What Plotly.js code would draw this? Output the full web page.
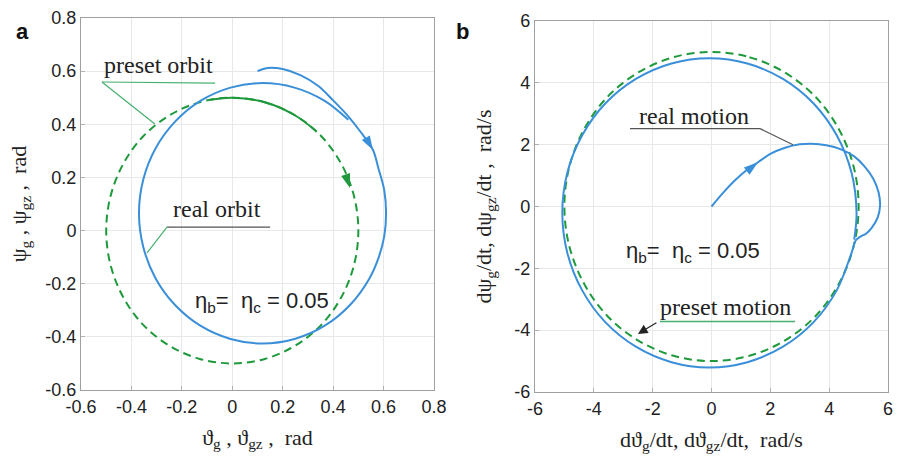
<!DOCTYPE html>
<html>
<head>
<meta charset="utf-8">
<script src="https://cdn.plot.ly/plotly-3.0.1.min.js"></script>
<style>html,body{margin:0;padding:0;background:#fff;}#chart{width:900px;height:461px;}</style>
</head>
<body>
<div id="chart"></div>
<script>
// ---- Panel a: orbit (rad) ----
const presetOrbitX = [0, 0.129, 0.25, 0.354, 0.433, 0.483, 0.5, 0.483, 0.433, 0.354, 0.25, 0.129, 0, -0.129, -0.25, -0.354, -0.433, -0.483, -0.5, -0.483, -0.433, -0.354, -0.25, -0.129, 0];
const presetOrbitY = [0.5, 0.483, 0.433, 0.354, 0.25, 0.129, 0, -0.129, -0.25, -0.354, -0.433, -0.483, -0.5, -0.483, -0.433, -0.354, -0.25, -0.129, 0, 0.129, 0.25, 0.354, 0.433, 0.483, 0.5];
const presetOrbitSolidX = [-0.087, 0, 0.129, 0.25, 0.335];
const presetOrbitSolidY = [0.492, 0.5, 0.483, 0.433, 0.372];
const realOrbitX = [0.10, 0.14, 0.20, 0.27, 0.34, 0.40, 0.46, 0.51, 0.558, 0.58, 0.603, 0.61, 0.603, 0.58, 0.544, 0.466, 0.365, 0.247, 0.12, -0.007, -0.125, -0.226, -0.304, -0.353, -0.37, -0.353, -0.304, -0.226, -0.125, -0.007, 0.12, 0.247, 0.365, 0.46];
const realOrbitY = [0.600, 0.612, 0.608, 0.585, 0.545, 0.49, 0.43, 0.37, 0.303, 0.233, 0.15, 0.065, -0.02, -0.103, -0.18, -0.281, -0.359, -0.408, -0.425, -0.408, -0.359, -0.281, -0.18, -0.062, 0.065, 0.192, 0.31, 0.411, 0.489, 0.538, 0.555, 0.538, 0.489, 0.417];
const arrowsA = {x: [0.467, 0.558], y: [0.16, 0.303], angle: [162, 150]};

// ---- Panel b: motion (rad/s) ----
const presetMotionX = [0, 1.29, 2.5, 3.54, 4.33, 4.83, 5, 4.83, 4.33, 3.54, 2.5, 1.29, 0, -1.29, -2.5, -3.54, -4.33, -4.83, -5, -4.83, -4.33, -3.54, -2.5, -1.29, 0];
const presetMotionY = [5, 4.83, 4.33, 3.54, 2.5, 1.29, 0, -1.29, -2.5, -3.54, -4.33, -4.83, -5, -4.83, -4.33, -3.54, -2.5, -1.29, 0, 1.29, 2.5, 3.54, 4.33, 4.83, 5];
const realMotionX = [0, 0.4, 0.8, 1.2, 1.58, 2.0, 2.5, 3.0, 3.4, 3.9, 4.4, 4.85, 5.2, 5.5, 5.68, 5.73, 5.65, 5.45, 5.25, 5.05, 4.9, 4.76, 4.26, 3.47, 2.43, 1.22, -0.07, -1.36, -2.57, -3.61, -4.40, -4.9, -5.07, -4.9, -4.40, -3.61, -2.57, -1.36, -0.07, 1.22, 2.43, 3.47, 4.26, 4.76, 4.93, 4.85];
const realMotionY = [0, 0.45, 0.85, 1.18, 1.43, 1.7, 1.9, 2.01, 2.03, 1.98, 1.85, 1.62, 1.3, 0.9, 0.45, 0.05, -0.35, -0.68, -0.88, -0.98, -1.1, -1.5, -2.705, -3.74, -4.535, -5.035, -5.205, -5.035, -4.535, -3.74, -2.705, -1.5, -0.205, 1.09, 2.295, 3.33, 4.125, 4.625, 4.795, 4.625, 4.125, 3.33, 2.295, 1.09, -0.205, -1.07];
const arrowsB = {x: [1.58], y: [1.43], angle: [52]};

const ticksA = [-0.6, -0.4, -0.2, 0, 0.2, 0.4, 0.6, 0.8];
const tickLabelsA = ['-0.6', '-0.4', '-0.2', '0', '0.2', '0.4', '0.6', '0.8'];
const ticksB = [-6, -4, -2, 0, 2, 4, 6];
const tickLabelsB = ['-6', '-4', '-2', '0', '2', '4', '6'];

const BLUE = '#3a8fd8';
const GREEN = '#1e9a3c';
const LEADG = '#46b06e';
const GRAYL = '#555555';
const SERIF = '"Liberation Serif", "DejaVu Serif", serif';
const SANS = '"Liberation Sans", Arial, sans-serif';
const NB = '\u00a0';

const traces = [
  {x: presetOrbitX, y: presetOrbitY, xaxis: 'x', yaxis: 'y', mode: 'lines', line: {color: GREEN, width: 2, dash: '8px,5px', shape: 'spline'}, name: 'preset orbit', hoverinfo: 'skip'},
  {x: presetOrbitSolidX, y: presetOrbitSolidY, xaxis: 'x', yaxis: 'y', mode: 'lines', line: {color: GREEN, width: 2, shape: 'spline'}, hoverinfo: 'skip'},
  {x: realOrbitX, y: realOrbitY, xaxis: 'x', yaxis: 'y', mode: 'lines', line: {color: BLUE, width: 2, shape: 'spline'}, name: 'real orbit', hoverinfo: 'skip'},
  {x: [arrowsA.x[0]], y: [arrowsA.y[0]], xaxis: 'x', yaxis: 'y', mode: 'markers', marker: {symbol: 'arrow', size: 15, angle: arrowsA.angle[0], color: GREEN}, hoverinfo: 'skip'},
  {x: [arrowsA.x[1]], y: [arrowsA.y[1]], xaxis: 'x', yaxis: 'y', mode: 'markers', marker: {symbol: 'arrow', size: 15, angle: arrowsA.angle[1], color: BLUE}, hoverinfo: 'skip'},
  {x: presetMotionX, y: presetMotionY, xaxis: 'x2', yaxis: 'y2', mode: 'lines', line: {color: GREEN, width: 2, dash: '8px,5px', shape: 'spline'}, name: 'preset motion', hoverinfo: 'skip'},
  {x: realMotionX, y: realMotionY, xaxis: 'x2', yaxis: 'y2', mode: 'lines', line: {color: BLUE, width: 2, shape: 'spline'}, name: 'real motion', hoverinfo: 'skip'},
  {x: arrowsB.x, y: arrowsB.y, xaxis: 'x2', yaxis: 'y2', mode: 'markers', marker: {symbol: 'arrow', size: 15, angle: arrowsB.angle[0], color: BLUE}, hoverinfo: 'skip'}
];

function axis(range, tv, tt, dom, anchor, title, standoff) {
  return {
    range: range, domain: dom, anchor: anchor, tickmode: 'array', tickvals: tv, ticktext: tt,
    showgrid: true, gridcolor: '#e8e8e8', gridwidth: 1, zeroline: false,
    showline: true, linecolor: '#a0a0a0', linewidth: 1, mirror: true,
    ticks: 'inside', ticklen: 4, tickcolor: '#b0b0b0',
    tickfont: {family: SANS, size: 18, color: '#222'},
    title: {text: title, font: {family: SERIF, size: 22, color: '#222'}, standoff: standoff},
    automargin: false, fixedrange: true
  };
}

const layout = {
  width: 900, height: 461,
  margin: {l: 0, r: 0, t: 0, b: 0},
  paper_bgcolor: '#fff', plot_bgcolor: '#fff',
  showlegend: false,
  xaxis: axis([-0.6, 0.8], ticksA, tickLabelsA, [0.09, 0.4822], 'y', 'ϑ<sub>g</sub> , ϑ<sub>gz</sub> ,' + NB + NB + 'rad', 13),
  yaxis: axis([-0.6, 0.8], ticksA, tickLabelsA, [0.154, 0.961], 'x', 'ψ<sub>g</sub> , ψ<sub>gz</sub> ,' + NB + NB + 'rad', 12),
  xaxis2: axis([-6, 6], ticksB, tickLabelsB, [0.5944, 0.9867], 'y2', 'dϑ<sub>g</sub>/dt, dϑ<sub>gz</sub>/dt,' + NB + NB + 'rad/s', 13),
  yaxis2: axis([-6, 6], ticksB, tickLabelsB, [0.14967, 0.95445], 'x2', 'dψ<sub>g</sub>/dt, dψ<sub>gz</sub>/dt ,' + NB + NB + 'rad/s', 16),
  shapes: [
    {type: 'line', xref: 'x', yref: 'y', x0: -0.517, y0: 0.559, x1: -0.068, y1: 0.555, line: {color: LEADG, width: 1.2}},
    {type: 'line', xref: 'x', yref: 'y', x0: -0.517, y0: 0.559, x1: -0.307, y1: 0.401, line: {color: LEADG, width: 1.2}},
    {type: 'line', xref: 'x', yref: 'y', x0: -0.259, y0: 0.013, x1: 0.15, y1: 0.013, line: {color: GRAYL, width: 1.2}},
    {type: 'line', xref: 'x', yref: 'y', x0: -0.259, y0: 0.013, x1: -0.338, y1: -0.084, line: {color: LEADG, width: 1.2}},
    {type: 'line', xref: 'x2', yref: 'y2', x0: -2.77, y0: 2.52, x1: 1.65, y1: 2.52, line: {color: GRAYL, width: 1.2}},
    {type: 'line', xref: 'x2', yref: 'y2', x0: 1.65, y0: 2.52, x1: 2.77, y1: 2.0, line: {color: GRAYL, width: 1.2}},
    {type: 'line', xref: 'x2', yref: 'y2', x0: -1.75, y0: -3.72, x1: 2.84, y1: -3.72, line: {color: LEADG, width: 1.5}}
  ],
  annotations: [
    {xref: 'paper', yref: 'paper', x: 14 / 900, y: 1 - 17 / 461, text: '<b>a</b>', showarrow: false, font: {family: SANS, size: 22, color: '#111'}},
    {xref: 'paper', yref: 'paper', x: 462 / 900, y: 1 - 17 / 461, text: '<b>b</b>', showarrow: false, font: {family: SANS, size: 22, color: '#111'}},
    {xref: 'x', yref: 'y', x: -0.291, y: 0.623, text: 'preset orbit', showarrow: false, font: {family: SERIF, size: 24, color: '#222'}},
    {xref: 'x', yref: 'y', x: -0.059, y: 0.081, text: 'real orbit', showarrow: false, font: {family: SERIF, size: 24, color: '#222'}},
    {xref: 'x', yref: 'y', x: 0.118, y: -0.269, text: 'η<sub>b</sub>=' + NB + ' η<sub>c</sub> = 0.05', showarrow: false, font: {family: SANS, size: 22, color: '#222'}},
    {xref: 'x2', yref: 'y2', x: -0.59, y: 2.92, text: 'real motion', showarrow: false, font: {family: SERIF, size: 24, color: '#222'}},
    {xref: 'x2', yref: 'y2', x: -0.63, y: -1.46, text: 'η<sub>b</sub>=' + NB + ' η<sub>c</sub> = 0.05', showarrow: false, font: {family: SANS, size: 22, color: '#222'}},
    {xref: 'x2', yref: 'y2', x: 0.49, y: -3.24, text: 'preset motion', showarrow: false, font: {family: SERIF, size: 24, color: '#222'}},
    {xref: 'x2', yref: 'y2', x: -2.5, y: -4.12, ax: 20, ay: -12, axref: 'pixel', ayref: 'pixel', text: '', showarrow: true, arrowhead: 2, arrowsize: 1.6, arrowwidth: 1.2, arrowcolor: '#222'}
  ]
};

Plotly.newPlot('chart', traces, layout, {displayModeBar: false});
</script>
</body>
</html>
